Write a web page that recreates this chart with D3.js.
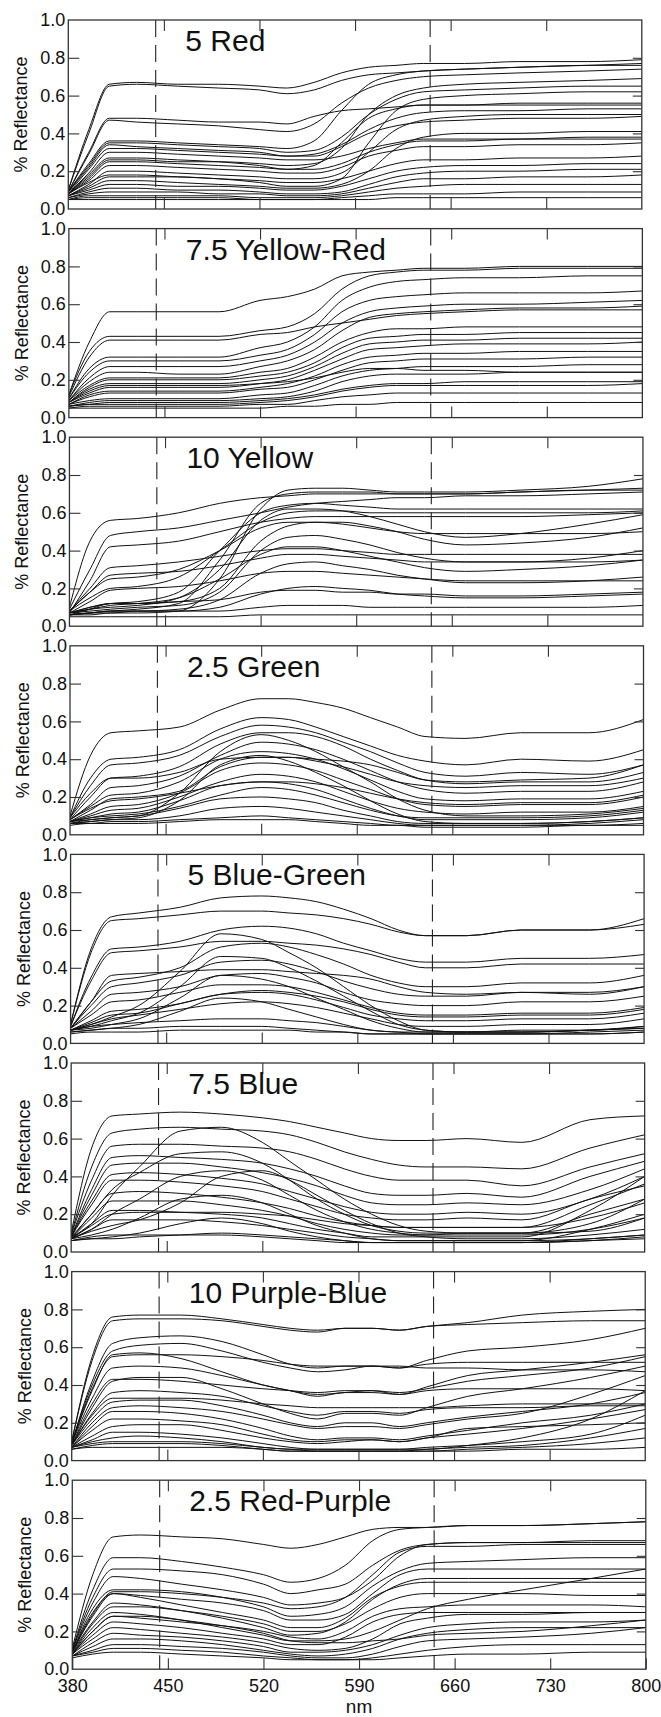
<!DOCTYPE html>
<html>
<head>
<meta charset="utf-8">
<script src="https://cdn.jsdelivr.net/npm/d3@7"></script>
<style>
body { margin: 0; background: #fff; }
text { font-family: "Liberation Sans", Arial, sans-serif; fill: #111; }
</style>
</head>
<body>
<svg id="chart"></svg>
<script>
// sample wavelengths (nm) the curves are read at
var wavelengths = [380, 395, 410, 430, 460, 490, 520, 540, 560, 580, 600, 620, 640, 670, 710, 760, 800];
var xTicks = [380, 450, 520, 590, 660, 730, 800];
var yTicks = [0, 0.2, 0.4, 0.6, 0.8, 1.0];
var dashedAt = [444, 645];
var panelTitles = ["5 Red", "7.5 Yellow-Red", "10 Yellow", "2.5 Green", "5 Blue-Green", "7.5 Blue", "10 Purple-Blue", "2.5 Red-Purple"];

var red5 = [
  [0.10,0.42,0.66,0.67,0.66,0.66,0.65,0.64,0.67,0.72,0.75,0.76,0.77,0.77,0.78,0.78,0.79],
  [0.10,0.40,0.65,0.66,0.65,0.64,0.63,0.61,0.63,0.68,0.71,0.72,0.73,0.74,0.75,0.76,0.77],
  [0.09,0.30,0.48,0.48,0.47,0.46,0.46,0.45,0.49,0.52,0.53,0.54,0.55,0.55,0.55,0.55,0.55],
  [0.09,0.29,0.47,0.46,0.45,0.44,0.42,0.41,0.45,0.56,0.64,0.68,0.70,0.71,0.72,0.73,0.74],
  [0.09,0.24,0.36,0.36,0.35,0.34,0.33,0.32,0.36,0.52,0.66,0.71,0.73,0.74,0.75,0.76,0.76],
  [0.09,0.23,0.35,0.35,0.34,0.33,0.32,0.30,0.31,0.38,0.50,0.58,0.62,0.63,0.64,0.65,0.65],
  [0.09,0.22,0.34,0.33,0.32,0.31,0.30,0.28,0.29,0.34,0.42,0.48,0.51,0.52,0.52,0.53,0.53],
  [0.08,0.21,0.32,0.32,0.31,0.30,0.29,0.28,0.28,0.33,0.40,0.44,0.46,0.47,0.48,0.48,0.49],
  [0.08,0.19,0.30,0.30,0.29,0.28,0.27,0.26,0.26,0.28,0.32,0.35,0.37,0.37,0.37,0.38,0.38],
  [0.08,0.17,0.26,0.26,0.25,0.25,0.24,0.23,0.24,0.32,0.50,0.60,0.64,0.66,0.67,0.68,0.69],
  [0.08,0.16,0.25,0.25,0.24,0.23,0.22,0.21,0.21,0.24,0.30,0.34,0.36,0.36,0.37,0.37,0.37],
  [0.08,0.15,0.23,0.23,0.22,0.21,0.20,0.19,0.19,0.22,0.28,0.31,0.33,0.33,0.34,0.34,0.35],
  [0.07,0.13,0.20,0.20,0.19,0.18,0.17,0.16,0.16,0.19,0.30,0.42,0.47,0.49,0.50,0.50,0.50],
  [0.07,0.12,0.17,0.17,0.17,0.16,0.15,0.14,0.14,0.16,0.20,0.24,0.26,0.26,0.27,0.27,0.28],
  [0.07,0.11,0.15,0.15,0.14,0.13,0.12,0.11,0.11,0.13,0.20,0.32,0.38,0.40,0.40,0.41,0.41],
  [0.07,0.10,0.13,0.13,0.12,0.12,0.11,0.10,0.10,0.12,0.16,0.20,0.22,0.23,0.23,0.24,0.24],
  [0.06,0.09,0.11,0.11,0.10,0.10,0.09,0.08,0.08,0.09,0.13,0.17,0.19,0.20,0.20,0.21,0.21],
  [0.06,0.08,0.09,0.09,0.09,0.08,0.08,0.07,0.07,0.08,0.11,0.14,0.16,0.16,0.17,0.17,0.18],
  [0.05,0.07,0.07,0.07,0.07,0.07,0.06,0.06,0.06,0.07,0.09,0.11,0.12,0.13,0.13,0.13,0.13],
  [0.05,0.06,0.06,0.06,0.06,0.06,0.05,0.05,0.05,0.06,0.07,0.08,0.08,0.08,0.09,0.09,0.09],
  [0.05,0.05,0.05,0.05,0.05,0.05,0.05,0.05,0.05,0.05,0.05,0.06,0.06,0.06,0.06,0.06,0.06],
  [0.08,0.14,0.18,0.18,0.17,0.16,0.14,0.12,0.12,0.16,0.35,0.52,0.58,0.60,0.61,0.62,0.62],
  [0.08,0.18,0.27,0.27,0.26,0.25,0.23,0.21,0.23,0.35,0.48,0.53,0.55,0.55,0.56,0.56,0.56]
];

var yellowRed75 = [
  [0.12,0.40,0.56,0.56,0.56,0.56,0.62,0.64,0.68,0.75,0.77,0.78,0.79,0.79,0.80,0.80,0.80],
  [0.12,0.35,0.43,0.43,0.43,0.43,0.46,0.48,0.55,0.68,0.75,0.77,0.78,0.78,0.79,0.79,0.79],
  [0.11,0.32,0.41,0.41,0.41,0.41,0.44,0.45,0.48,0.50,0.52,0.54,0.55,0.56,0.57,0.57,0.57],
  [0.10,0.26,0.32,0.32,0.32,0.32,0.37,0.40,0.48,0.62,0.69,0.72,0.73,0.74,0.74,0.75,0.75],
  [0.10,0.24,0.30,0.30,0.30,0.30,0.33,0.36,0.44,0.56,0.62,0.64,0.65,0.66,0.66,0.66,0.67],
  [0.09,0.21,0.27,0.27,0.27,0.27,0.30,0.33,0.40,0.50,0.56,0.58,0.59,0.60,0.60,0.61,0.62],
  [0.09,0.19,0.24,0.24,0.23,0.23,0.27,0.30,0.36,0.46,0.53,0.55,0.56,0.57,0.58,0.58,0.59],
  [0.09,0.17,0.21,0.21,0.21,0.21,0.24,0.26,0.32,0.40,0.45,0.47,0.47,0.48,0.48,0.48,0.48],
  [0.08,0.16,0.20,0.20,0.20,0.20,0.22,0.24,0.29,0.37,0.42,0.43,0.44,0.44,0.45,0.45,0.45],
  [0.08,0.15,0.18,0.18,0.18,0.18,0.20,0.22,0.27,0.34,0.39,0.40,0.41,0.41,0.42,0.42,0.42],
  [0.08,0.13,0.16,0.16,0.16,0.16,0.18,0.20,0.25,0.31,0.36,0.37,0.38,0.39,0.39,0.39,0.40],
  [0.07,0.12,0.14,0.14,0.14,0.14,0.16,0.18,0.22,0.28,0.32,0.33,0.34,0.34,0.35,0.35,0.35],
  [0.07,0.11,0.13,0.13,0.13,0.13,0.15,0.16,0.20,0.25,0.29,0.30,0.31,0.31,0.31,0.32,0.32],
  [0.07,0.09,0.10,0.10,0.10,0.10,0.12,0.13,0.17,0.22,0.25,0.26,0.27,0.27,0.27,0.28,0.28],
  [0.06,0.08,0.09,0.09,0.09,0.09,0.10,0.11,0.14,0.19,0.22,0.23,0.23,0.23,0.24,0.24,0.24],
  [0.06,0.07,0.08,0.08,0.08,0.08,0.09,0.10,0.12,0.15,0.17,0.18,0.18,0.19,0.19,0.19,0.19],
  [0.06,0.07,0.07,0.07,0.07,0.07,0.08,0.09,0.11,0.14,0.16,0.17,0.17,0.17,0.17,0.17,0.18],
  [0.05,0.06,0.06,0.06,0.06,0.06,0.07,0.07,0.09,0.11,0.12,0.13,0.13,0.13,0.13,0.13,0.13],
  [0.05,0.05,0.05,0.05,0.05,0.05,0.05,0.06,0.06,0.07,0.07,0.08,0.08,0.08,0.08,0.08,0.08],
  [0.08,0.14,0.17,0.17,0.17,0.17,0.18,0.19,0.21,0.24,0.26,0.26,0.25,0.25,0.24,0.24,0.24]
];

var yellow10 = [
  [0.10,0.45,0.56,0.57,0.60,0.65,0.68,0.69,0.70,0.70,0.70,0.70,0.70,0.70,0.71,0.72,0.72],
  [0.09,0.30,0.48,0.50,0.52,0.56,0.60,0.63,0.65,0.66,0.67,0.68,0.68,0.69,0.69,0.70,0.71],
  [0.06,0.06,0.07,0.07,0.08,0.25,0.62,0.72,0.73,0.73,0.72,0.71,0.71,0.71,0.72,0.74,0.78],
  [0.06,0.07,0.08,0.09,0.12,0.35,0.65,0.70,0.71,0.71,0.71,0.70,0.70,0.70,0.71,0.72,0.73],
  [0.07,0.10,0.12,0.13,0.18,0.40,0.60,0.64,0.65,0.64,0.63,0.62,0.62,0.62,0.62,0.62,0.62],
  [0.08,0.15,0.20,0.21,0.26,0.40,0.55,0.60,0.61,0.61,0.60,0.60,0.60,0.60,0.60,0.60,0.61],
  [0.07,0.09,0.10,0.11,0.15,0.30,0.56,0.62,0.62,0.61,0.58,0.54,0.50,0.47,0.49,0.54,0.59],
  [0.08,0.18,0.25,0.26,0.30,0.40,0.52,0.55,0.55,0.54,0.52,0.50,0.49,0.49,0.49,0.49,0.50],
  [0.07,0.08,0.09,0.10,0.11,0.18,0.40,0.47,0.48,0.46,0.43,0.39,0.36,0.34,0.34,0.36,0.40],
  [0.08,0.20,0.31,0.32,0.34,0.37,0.40,0.41,0.41,0.40,0.39,0.38,0.38,0.38,0.38,0.38,0.38],
  [0.07,0.09,0.11,0.12,0.15,0.25,0.38,0.42,0.42,0.40,0.37,0.34,0.31,0.29,0.30,0.32,0.35],
  [0.08,0.18,0.27,0.28,0.29,0.32,0.36,0.38,0.38,0.37,0.36,0.35,0.34,0.34,0.34,0.34,0.35],
  [0.06,0.07,0.08,0.08,0.09,0.14,0.28,0.33,0.34,0.32,0.30,0.27,0.25,0.23,0.23,0.24,0.26],
  [0.07,0.13,0.19,0.20,0.21,0.24,0.28,0.29,0.29,0.28,0.27,0.26,0.25,0.24,0.24,0.24,0.24],
  [0.06,0.07,0.07,0.08,0.08,0.10,0.17,0.20,0.21,0.20,0.19,0.17,0.16,0.15,0.15,0.16,0.17],
  [0.07,0.10,0.12,0.12,0.13,0.14,0.18,0.19,0.19,0.18,0.18,0.17,0.17,0.16,0.16,0.17,0.18],
  [0.06,0.07,0.08,0.08,0.08,0.08,0.10,0.11,0.11,0.11,0.10,0.10,0.10,0.10,0.10,0.10,0.11],
  [0.05,0.05,0.05,0.05,0.05,0.05,0.06,0.06,0.06,0.06,0.06,0.06,0.06,0.06,0.06,0.06,0.06],
  [0.07,0.24,0.42,0.43,0.45,0.50,0.55,0.57,0.58,0.58,0.58,0.58,0.58,0.58,0.58,0.59,0.60],
  [0.06,0.09,0.12,0.12,0.13,0.20,0.45,0.53,0.55,0.55,0.53,0.50,0.46,0.43,0.44,0.47,0.52]
];

var green25 = [
  [0.10,0.42,0.54,0.55,0.57,0.66,0.72,0.72,0.70,0.67,0.62,0.57,0.52,0.51,0.54,0.54,0.61],
  [0.09,0.30,0.40,0.41,0.45,0.56,0.62,0.61,0.57,0.52,0.47,0.42,0.39,0.37,0.40,0.39,0.45],
  [0.09,0.26,0.37,0.38,0.42,0.52,0.58,0.57,0.54,0.49,0.44,0.38,0.33,0.31,0.33,0.32,0.37],
  [0.08,0.20,0.30,0.31,0.36,0.48,0.54,0.54,0.52,0.47,0.40,0.34,0.29,0.27,0.28,0.28,0.33],
  [0.07,0.08,0.09,0.10,0.22,0.44,0.53,0.50,0.44,0.36,0.28,0.19,0.13,0.10,0.10,0.11,0.14],
  [0.08,0.16,0.25,0.26,0.31,0.42,0.49,0.48,0.45,0.40,0.34,0.28,0.24,0.22,0.23,0.23,0.28],
  [0.08,0.15,0.21,0.22,0.28,0.40,0.44,0.43,0.40,0.35,0.29,0.23,0.19,0.18,0.19,0.19,0.23],
  [0.06,0.07,0.08,0.09,0.18,0.37,0.42,0.39,0.33,0.26,0.18,0.11,0.07,0.06,0.06,0.07,0.09],
  [0.07,0.13,0.19,0.20,0.23,0.36,0.41,0.41,0.39,0.36,0.32,0.28,0.26,0.25,0.26,0.26,0.30],
  [0.07,0.11,0.15,0.16,0.22,0.34,0.38,0.37,0.34,0.29,0.24,0.19,0.16,0.15,0.16,0.16,0.20],
  [0.07,0.10,0.13,0.14,0.20,0.28,0.32,0.31,0.28,0.23,0.18,0.14,0.12,0.11,0.12,0.12,0.15],
  [0.07,0.09,0.11,0.12,0.18,0.26,0.28,0.27,0.24,0.19,0.14,0.10,0.08,0.08,0.08,0.09,0.12],
  [0.07,0.09,0.10,0.11,0.15,0.21,0.25,0.24,0.21,0.17,0.13,0.10,0.09,0.09,0.09,0.10,0.13],
  [0.06,0.08,0.09,0.10,0.14,0.19,0.20,0.19,0.17,0.13,0.10,0.07,0.06,0.06,0.06,0.07,0.09],
  [0.06,0.07,0.08,0.08,0.10,0.14,0.15,0.14,0.12,0.10,0.08,0.06,0.05,0.05,0.05,0.06,0.08],
  [0.06,0.06,0.07,0.07,0.08,0.09,0.10,0.09,0.08,0.07,0.06,0.05,0.05,0.05,0.05,0.05,0.06],
  [0.05,0.06,0.06,0.06,0.07,0.08,0.08,0.08,0.07,0.06,0.05,0.05,0.04,0.04,0.04,0.05,0.05],
  [0.08,0.14,0.18,0.19,0.22,0.26,0.28,0.28,0.27,0.25,0.22,0.19,0.17,0.16,0.17,0.17,0.21],
  [0.09,0.22,0.30,0.30,0.33,0.40,0.41,0.41,0.40,0.39,0.37,0.33,0.29,0.28,0.29,0.30,0.37]
];

var blueGreen5 = [
  [0.10,0.50,0.67,0.69,0.72,0.77,0.78,0.77,0.75,0.71,0.66,0.60,0.57,0.57,0.60,0.60,0.66],
  [0.10,0.48,0.65,0.66,0.68,0.70,0.70,0.69,0.68,0.66,0.63,0.59,0.57,0.57,0.60,0.60,0.63],
  [0.09,0.35,0.50,0.51,0.54,0.60,0.62,0.61,0.58,0.53,0.49,0.45,0.43,0.43,0.45,0.45,0.47],
  [0.09,0.33,0.48,0.49,0.51,0.54,0.54,0.53,0.52,0.50,0.47,0.43,0.40,0.40,0.42,0.42,0.42],
  [0.07,0.10,0.14,0.20,0.38,0.58,0.55,0.48,0.40,0.30,0.20,0.12,0.07,0.06,0.06,0.07,0.08],
  [0.08,0.22,0.33,0.35,0.40,0.51,0.53,0.51,0.47,0.42,0.36,0.32,0.30,0.30,0.32,0.32,0.36],
  [0.07,0.09,0.12,0.16,0.30,0.46,0.45,0.40,0.33,0.25,0.17,0.10,0.07,0.06,0.06,0.07,0.09],
  [0.08,0.20,0.30,0.32,0.36,0.43,0.44,0.42,0.38,0.33,0.29,0.26,0.25,0.25,0.27,0.26,0.30],
  [0.08,0.22,0.36,0.37,0.38,0.39,0.39,0.38,0.37,0.36,0.34,0.30,0.27,0.26,0.27,0.27,0.30],
  [0.07,0.08,0.10,0.13,0.24,0.36,0.34,0.30,0.24,0.18,0.12,0.08,0.06,0.06,0.06,0.07,0.08],
  [0.08,0.17,0.26,0.27,0.30,0.36,0.37,0.35,0.32,0.27,0.23,0.21,0.20,0.20,0.22,0.22,0.25],
  [0.08,0.15,0.22,0.23,0.27,0.31,0.31,0.30,0.27,0.23,0.19,0.16,0.15,0.15,0.16,0.16,0.19],
  [0.06,0.07,0.08,0.10,0.17,0.24,0.22,0.18,0.14,0.10,0.07,0.06,0.05,0.05,0.05,0.06,0.07],
  [0.07,0.12,0.17,0.18,0.21,0.26,0.27,0.26,0.23,0.19,0.15,0.13,0.12,0.12,0.13,0.13,0.16],
  [0.07,0.10,0.13,0.15,0.18,0.21,0.22,0.21,0.19,0.16,0.13,0.10,0.09,0.09,0.10,0.10,0.13],
  [0.07,0.09,0.10,0.11,0.12,0.13,0.13,0.12,0.11,0.09,0.07,0.06,0.06,0.06,0.07,0.07,0.09],
  [0.06,0.07,0.08,0.08,0.09,0.09,0.09,0.08,0.07,0.06,0.05,0.05,0.05,0.05,0.05,0.05,0.06],
  [0.05,0.06,0.06,0.06,0.07,0.07,0.07,0.07,0.06,0.06,0.05,0.05,0.05,0.05,0.05,0.05,0.06],
  [0.07,0.11,0.15,0.16,0.21,0.26,0.28,0.27,0.25,0.22,0.18,0.15,0.14,0.14,0.15,0.15,0.18]
];

var blue75 = [
  [0.10,0.55,0.72,0.73,0.74,0.73,0.71,0.69,0.66,0.63,0.60,0.59,0.59,0.60,0.58,0.70,0.72],
  [0.09,0.45,0.63,0.65,0.66,0.65,0.64,0.62,0.58,0.53,0.49,0.46,0.45,0.45,0.44,0.55,0.62],
  [0.08,0.15,0.30,0.45,0.64,0.66,0.58,0.48,0.38,0.28,0.20,0.14,0.11,0.10,0.10,0.11,0.18],
  [0.09,0.38,0.56,0.57,0.57,0.56,0.55,0.53,0.49,0.44,0.40,0.38,0.38,0.38,0.35,0.45,0.52],
  [0.08,0.20,0.33,0.42,0.52,0.53,0.47,0.38,0.28,0.20,0.14,0.11,0.10,0.10,0.10,0.15,0.28],
  [0.08,0.33,0.50,0.51,0.50,0.49,0.47,0.44,0.40,0.35,0.31,0.30,0.30,0.31,0.29,0.40,0.48],
  [0.08,0.30,0.46,0.47,0.47,0.45,0.42,0.39,0.35,0.30,0.26,0.25,0.25,0.26,0.25,0.33,0.44],
  [0.07,0.12,0.20,0.28,0.40,0.43,0.38,0.30,0.22,0.16,0.12,0.10,0.09,0.09,0.09,0.12,0.18],
  [0.08,0.27,0.41,0.42,0.41,0.39,0.36,0.32,0.28,0.24,0.21,0.20,0.20,0.21,0.20,0.28,0.40],
  [0.08,0.25,0.38,0.38,0.37,0.35,0.32,0.28,0.24,0.20,0.18,0.17,0.17,0.18,0.17,0.28,0.35],
  [0.07,0.09,0.12,0.18,0.28,0.30,0.26,0.20,0.14,0.10,0.07,0.06,0.06,0.06,0.06,0.07,0.09],
  [0.07,0.20,0.31,0.32,0.31,0.29,0.26,0.23,0.19,0.16,0.14,0.13,0.13,0.13,0.13,0.25,0.36],
  [0.07,0.18,0.27,0.27,0.27,0.25,0.22,0.19,0.15,0.12,0.10,0.09,0.09,0.10,0.10,0.20,0.28],
  [0.07,0.15,0.22,0.22,0.21,0.20,0.18,0.15,0.12,0.10,0.08,0.08,0.08,0.08,0.08,0.22,0.40],
  [0.06,0.07,0.08,0.10,0.15,0.18,0.15,0.11,0.08,0.06,0.05,0.05,0.05,0.05,0.05,0.06,0.07],
  [0.07,0.11,0.14,0.17,0.26,0.40,0.43,0.38,0.30,0.22,0.15,0.10,0.08,0.07,0.07,0.09,0.12],
  [0.07,0.12,0.17,0.17,0.17,0.16,0.14,0.12,0.10,0.08,0.07,0.06,0.06,0.06,0.06,0.12,0.20],
  [0.06,0.08,0.09,0.09,0.09,0.09,0.08,0.07,0.06,0.05,0.05,0.05,0.05,0.05,0.05,0.07,0.09],
  [0.06,0.07,0.07,0.08,0.09,0.10,0.09,0.08,0.07,0.06,0.05,0.05,0.05,0.05,0.05,0.06,0.08],
  [0.07,0.14,0.20,0.21,0.21,0.21,0.20,0.19,0.17,0.15,0.14,0.13,0.13,0.13,0.13,0.18,0.26]
];

var purpleBlue10 = [
  [0.10,0.55,0.76,0.77,0.77,0.75,0.72,0.70,0.69,0.70,0.70,0.69,0.71,0.73,0.77,0.79,0.80],
  [0.10,0.53,0.74,0.75,0.75,0.74,0.71,0.69,0.68,0.70,0.70,0.69,0.71,0.72,0.73,0.74,0.74],
  [0.09,0.42,0.62,0.65,0.66,0.63,0.56,0.51,0.49,0.50,0.50,0.49,0.53,0.58,0.60,0.64,0.70],
  [0.09,0.40,0.58,0.61,0.62,0.58,0.52,0.49,0.47,0.48,0.50,0.49,0.51,0.52,0.52,0.52,0.52],
  [0.09,0.38,0.55,0.56,0.56,0.55,0.53,0.51,0.50,0.50,0.50,0.50,0.49,0.49,0.48,0.48,0.47],
  [0.09,0.37,0.56,0.57,0.54,0.47,0.40,0.37,0.34,0.36,0.36,0.35,0.39,0.45,0.48,0.52,0.56],
  [0.09,0.33,0.49,0.50,0.49,0.45,0.40,0.37,0.35,0.36,0.37,0.35,0.37,0.38,0.38,0.38,0.37],
  [0.08,0.30,0.43,0.43,0.42,0.40,0.38,0.37,0.36,0.37,0.37,0.36,0.38,0.42,0.45,0.49,0.55],
  [0.08,0.28,0.42,0.44,0.44,0.38,0.30,0.25,0.22,0.25,0.25,0.24,0.28,0.34,0.38,0.44,0.50],
  [0.08,0.25,0.36,0.37,0.36,0.34,0.29,0.26,0.24,0.26,0.26,0.25,0.27,0.28,0.28,0.29,0.29],
  [0.08,0.22,0.31,0.32,0.32,0.29,0.24,0.20,0.18,0.20,0.20,0.18,0.20,0.23,0.26,0.30,0.36],
  [0.07,0.20,0.28,0.29,0.28,0.26,0.22,0.19,0.17,0.18,0.18,0.17,0.19,0.22,0.25,0.35,0.45],
  [0.07,0.18,0.26,0.26,0.25,0.22,0.17,0.13,0.11,0.12,0.12,0.11,0.13,0.16,0.20,0.24,0.30],
  [0.07,0.16,0.22,0.22,0.21,0.19,0.14,0.11,0.10,0.11,0.11,0.10,0.12,0.17,0.18,0.19,0.20],
  [0.07,0.13,0.18,0.19,0.19,0.16,0.12,0.10,0.09,0.10,0.11,0.10,0.12,0.14,0.17,0.22,0.27],
  [0.07,0.11,0.15,0.15,0.14,0.12,0.09,0.07,0.06,0.06,0.06,0.06,0.07,0.08,0.10,0.14,0.24],
  [0.07,0.10,0.12,0.13,0.12,0.10,0.07,0.06,0.05,0.05,0.05,0.05,0.06,0.07,0.08,0.12,0.17],
  [0.06,0.08,0.09,0.09,0.09,0.08,0.06,0.05,0.05,0.05,0.05,0.05,0.05,0.06,0.07,0.09,0.12],
  [0.06,0.07,0.07,0.07,0.07,0.07,0.06,0.05,0.05,0.05,0.05,0.05,0.05,0.05,0.06,0.06,0.07],
  [0.07,0.09,0.10,0.10,0.10,0.09,0.07,0.06,0.06,0.06,0.06,0.06,0.06,0.08,0.12,0.22,0.37],
  [0.08,0.24,0.33,0.33,0.33,0.32,0.30,0.29,0.28,0.28,0.28,0.28,0.28,0.29,0.30,0.30,0.30]
];

var redPurple25 = [
  [0.11,0.50,0.70,0.71,0.70,0.69,0.66,0.64,0.66,0.70,0.74,0.75,0.75,0.76,0.76,0.77,0.78],
  [0.10,0.42,0.59,0.59,0.57,0.54,0.50,0.46,0.48,0.55,0.68,0.74,0.75,0.76,0.76,0.77,0.78],
  [0.10,0.38,0.53,0.53,0.52,0.50,0.45,0.40,0.42,0.45,0.55,0.63,0.66,0.67,0.67,0.68,0.68],
  [0.10,0.35,0.49,0.48,0.45,0.42,0.38,0.34,0.35,0.38,0.47,0.60,0.66,0.67,0.67,0.67,0.67],
  [0.09,0.32,0.42,0.42,0.41,0.38,0.33,0.28,0.29,0.33,0.44,0.52,0.56,0.57,0.58,0.59,0.59],
  [0.09,0.30,0.40,0.39,0.37,0.35,0.31,0.26,0.26,0.29,0.40,0.50,0.53,0.53,0.53,0.53,0.53],
  [0.09,0.28,0.40,0.38,0.34,0.30,0.26,0.22,0.22,0.27,0.38,0.44,0.46,0.46,0.46,0.46,0.46],
  [0.09,0.25,0.35,0.34,0.31,0.27,0.22,0.18,0.19,0.25,0.37,0.45,0.48,0.48,0.48,0.48,0.48],
  [0.08,0.24,0.33,0.33,0.31,0.28,0.24,0.20,0.20,0.24,0.32,0.38,0.40,0.40,0.40,0.39,0.39],
  [0.08,0.22,0.30,0.29,0.26,0.22,0.18,0.15,0.15,0.16,0.20,0.26,0.32,0.37,0.42,0.48,0.53],
  [0.08,0.20,0.28,0.27,0.25,0.23,0.20,0.17,0.16,0.20,0.28,0.32,0.33,0.34,0.34,0.34,0.33],
  [0.08,0.18,0.25,0.24,0.22,0.19,0.16,0.13,0.13,0.17,0.25,0.29,0.30,0.30,0.30,0.30,0.30],
  [0.08,0.16,0.22,0.21,0.19,0.17,0.14,0.11,0.10,0.11,0.16,0.24,0.27,0.29,0.29,0.30,0.30],
  [0.07,0.14,0.19,0.18,0.17,0.15,0.12,0.09,0.09,0.10,0.13,0.18,0.22,0.24,0.25,0.25,0.26],
  [0.07,0.12,0.16,0.16,0.15,0.13,0.10,0.08,0.07,0.08,0.11,0.16,0.19,0.21,0.22,0.22,0.22],
  [0.07,0.10,0.13,0.13,0.12,0.11,0.09,0.07,0.06,0.06,0.08,0.12,0.15,0.16,0.17,0.19,0.22],
  [0.07,0.09,0.11,0.11,0.10,0.09,0.07,0.06,0.05,0.05,0.06,0.08,0.10,0.12,0.13,0.13,0.13],
  [0.06,0.08,0.09,0.09,0.08,0.07,0.06,0.05,0.05,0.05,0.05,0.06,0.07,0.08,0.08,0.09,0.09],
  [0.08,0.20,0.28,0.28,0.26,0.23,0.19,0.15,0.14,0.14,0.15,0.16,0.18,0.19,0.20,0.23,0.26],
  [0.09,0.29,0.41,0.41,0.40,0.38,0.35,0.32,0.33,0.38,0.50,0.62,0.65,0.65,0.66,0.66,0.66]
];

var panelCurves = [red5, yellowRed75, yellow10, green25, blueGreen5, blue75, purpleBlue10, redPurple25];

// layout
var width = 661, height = 1717;
var panel_top = 20, panel_step = 208.6, panel_h = 189;
var panel_left = 68.3, panel_w = 573.5, panel_skew = 0.57; // scan drifts right a bit per panel
var tick_len = 11;

var svg = d3.select("#chart").attr("width", width).attr("height", height);

var x = d3.scaleLinear().domain([380, 800]).range([0, panel_w]);
var y = d3.scaleLinear().domain([0, 1]).range([panel_h, 0]);

var line = d3.line()
    .x(function (d, i) { return x(wavelengths[i]); })
    .y(function (d) { return y(d); })
    .curve(d3.curveMonotoneX);

panelCurves.forEach(function (curves, p) {
    var left = panel_left + p * panel_skew;
    var top = panel_top + p * panel_step;
    var g = svg.append("g").attr("transform", "translate(" + left + "," + top + ")");

    g.append("clipPath").attr("id", "clip" + p)
        .append("rect").attr("width", panel_w).attr("height", panel_h);

    // spectra
    g.append("g").attr("clip-path", "url(#clip" + p + ")")
        .selectAll("path").data(curves).enter().append("path")
        .attr("d", line)
        .attr("fill", "none")
        .attr("stroke", "#111")
        .attr("stroke-width", 1);

    // dashed marker lines
    g.selectAll(".dash").data(dashedAt).enter().append("line").attr("class", "dash")
        .attr("x1", function (d) { return x(d); }).attr("x2", function (d) { return x(d); })
        .attr("y1", 0).attr("y2", panel_h)
        .attr("stroke", "#222").attr("stroke-width", 1.1)
        .attr("stroke-dasharray", "17,8");

    // axes, ticks pointing inwards
    var yAxis = g.append("g").call(d3.axisLeft(y).tickValues(yTicks).tickSize(-tick_len)
        .tickPadding(3).tickFormat(d3.format(".1f")));
    yAxis.selectAll("text").style("font-size", "18px");

    g.append("g").attr("transform", "translate(" + panel_w + ",0)")
        .call(d3.axisRight(y).tickValues(yTicks.slice(1, -1)).tickSize(-9).tickFormat(""));

    g.append("g").call(d3.axisTop(x).tickValues(xTicks.slice(1, -1)).tickSize(-tick_len).tickFormat(""));

    var isLast = p == panelCurves.length - 1;
    var xAxis = g.append("g").attr("transform", "translate(0," + panel_h + ")")
        .call(d3.axisBottom(x).tickValues(isLast ? xTicks : xTicks.slice(1, -1))
            .tickSize(-tick_len).tickPadding(10).tickFormat(isLast ? d3.format("d") : ""));
    xAxis.selectAll("text").style("font-size", "18px");

    g.selectAll(".domain").remove();
    g.selectAll(".tick line").attr("stroke", "#333").attr("stroke-width", 1.1);
    g.selectAll(".tick line").filter(function (d) { return d === 0 || d === 1; }).remove();

    // frame
    g.append("rect").attr("width", panel_w).attr("height", panel_h)
        .attr("fill", "none").attr("stroke", "#333").attr("stroke-width", 1.3);

    // title
    g.append("text").attr("x", 117).attr("y", 31)
        .style("font-size", "30px")
        .text(panelTitles[p]);

    // y label
    g.append("text")
        .attr("transform", "translate(" + (-41) + "," + (panel_h / 2) + ") rotate(-90)")
        .attr("text-anchor", "middle")
        .style("font-size", "18px")
        .text("% Reflectance");
});

svg.append("text")
    .attr("x", panel_left + 7 * panel_skew + panel_w / 2)
    .attr("y", 1713)
    .attr("text-anchor", "middle")
    .style("font-size", "19px")
    .text("nm");
</script>
</body>
</html>
